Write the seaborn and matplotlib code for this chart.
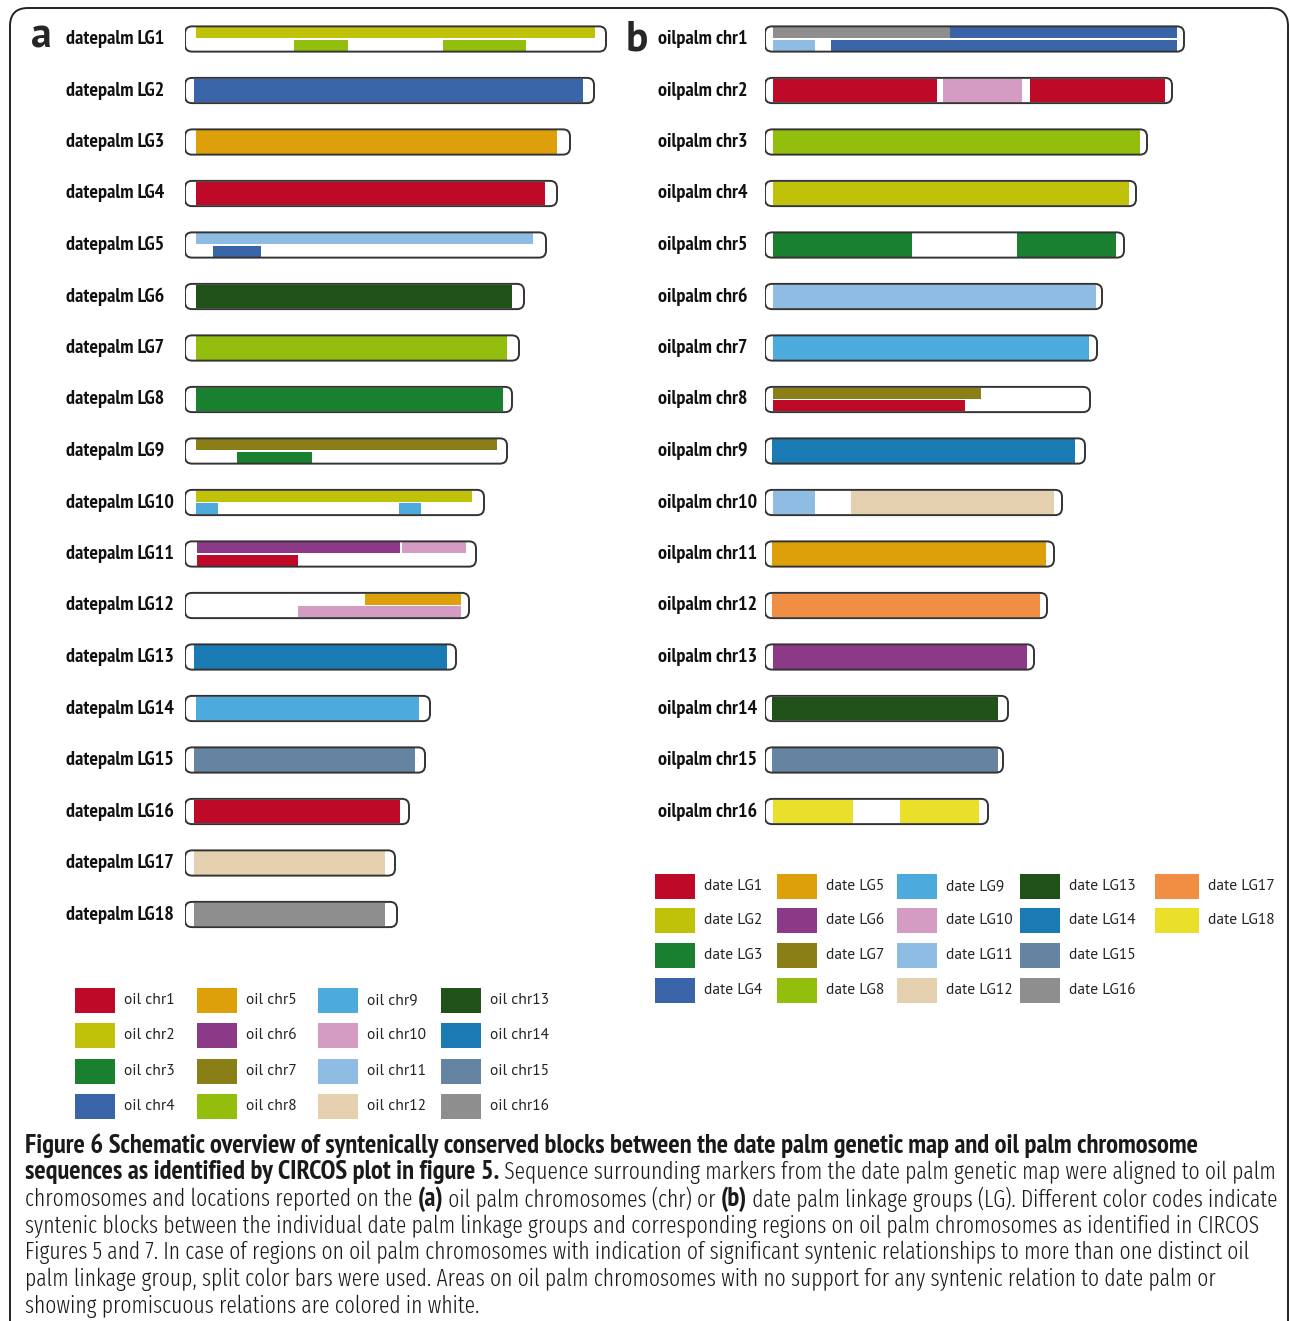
import matplotlib
matplotlib.use("Agg")
import matplotlib.pyplot as plt
from matplotlib.patches import FancyBboxPatch, Rectangle
from matplotlib import font_manager
import seaborn as sns

# ---------------------------------------------------------------- data
# Colour codes shared by oil palm chromosomes (1-16) and date palm LGs (1-18)
code_colors = ["#BE0A28", "#C0C20A", "#18802E", "#3A64A8", "#DDA00B", "#8C3A87",
               "#8A7E16", "#94BE0E", "#4DAADC", "#D59CC3", "#8FBCE2", "#E4CFAE",
               "#1F5118", "#1A7AB3", "#6584A1", "#8E8E8E", "#F28E44", "#EAE02A"]

# (a) date palm linkage groups, lengths in map units
lg_names = [f"datepalm LG{i}" for i in range(1, 19)]
lg_lengths = [421, 409, 385, 372, 361, 339, 334, 327, 322, 299, 291, 284,
              271, 245, 240, 224, 210, 212]
# syntenic blocks: (group index, start, end, oil chr code, track) track 0=full, 1=top, 2=bottom
lg_blocks = [
    (0, 11, 410, 2, 1), (0, 109, 163, 8, 2), (0, 258, 341, 8, 2),
    (1, 9, 398, 4, 0),
    (2, 11, 372, 5, 0),
    (3, 11, 360, 1, 0),
    (4, 11, 348, 11, 1), (4, 28, 76, 4, 2),
    (5, 11, 327, 13, 0),
    (6, 11, 322, 8, 0),
    (7, 11, 318, 3, 0),
    (8, 11, 312, 7, 1), (8, 52, 127, 3, 2),
    (9, 11, 287, 2, 1), (9, 11, 33, 9, 2), (9, 214, 236, 9, 2),
    (10, 12, 215, 6, 1), (10, 217, 281, 10, 1), (10, 12, 113, 1, 2),
    (11, 180, 276, 5, 1), (11, 113, 276, 10, 2),
    (12, 9, 262, 14, 0),
    (13, 11, 234, 9, 0),
    (14, 9, 230, 15, 0),
    (15, 9, 215, 1, 0),
    (16, 9, 200, 12, 0),
    (17, 9, 200, 16, 0),
]

# (b) oil palm chromosomes
chr_names = [f"oilpalm chr{i}" for i in range(1, 17)]
chr_lengths = [419, 407, 382, 371, 359, 337, 332, 325, 320, 297, 289, 282,
               269, 243, 238, 223]
chr_blocks = [
    (0, 8, 185, 16, 1), (0, 185, 412, 4, 1), (0, 8, 50, 11, 2), (0, 66, 412, 4, 2),
    (1, 8, 172, 1, 0), (1, 178, 257, 10, 0), (1, 265, 400, 1, 0),
    (2, 8, 375, 8, 0),
    (3, 8, 364, 2, 0),
    (4, 8, 147, 3, 0), (4, 252, 351, 3, 0),
    (5, 8, 331, 11, 0),
    (6, 8, 324, 9, 0),
    (7, 8, 216, 7, 1), (7, 8, 200, 1, 2),
    (8, 7, 310, 14, 0),
    (9, 8, 50, 11, 0), (9, 86, 289, 12, 0),
    (10, 7, 281, 5, 0),
    (11, 7, 275, 17, 0),
    (12, 8, 262, 6, 0),
    (13, 7, 233, 13, 0),
    (14, 7, 233, 15, 0),
    (15, 8, 88, 18, 0), (15, 135, 214, 18, 0),
]

oil_legend = [f"oil chr{i}" for i in range(1, 17)]
date_legend = [f"date LG{i}" for i in range(1, 19)]

caption_lines = [
    [("Figure 6 Schematic overview of syntenically conserved blocks between the date palm genetic map and oil palm chromosome", "bold")],
    [("sequences as identified by CIRCOS plot in figure 5.", "bold"),
     (" Sequence surrounding markers from the date palm genetic map were aligned to oil palm", "light")],
    [("chromosomes and locations reported on the ", "light"), ("(a)", "bold"),
     (" oil palm chromosomes (chr) or ", "light"), ("(b)", "bold"),
     (" date palm linkage groups (LG). Different color codes indicate", "light")],
    [("syntenic blocks between the individual date palm linkage groups and corresponding regions on oil palm chromosomes as identified in CIRCOS", "light")],
    [("Figures 5 and 7. In case of regions on oil palm chromosomes with indication of significant syntenic relationships to more than one distinct oil", "light")],
    [("palm linkage group, split color bars were used. Areas on oil palm chromosomes with no support for any syntenic relation to date palm or", "light")],
    [("showing promiscuous relations are colored in white.", "light")],
]

# ---------------------------------------------------------------- style
sns.set_theme(style="white")
installed = {f.name for f in font_manager.fontManager.ttflist}


def pick(*names):
    for n in names:
        if n in installed:
            return n
    return "DejaVu Sans"


NARROW = pick("PT Sans Narrow", "Fira Sans Condensed", "Roboto Condensed")
LIGHT = pick("Fira Sans Extra Condensed", "Open Sans", "Roboto Condensed")
KEYFONT = pick("PT Sans", "Fira Sans", "Open Sans")
plt.rcParams["font.family"] = [NARROW, "DejaVu Sans"]
palette = sns.color_palette(code_colors)

W, H = 1290, 1321
fig = plt.figure(figsize=(W / 100, H / 100), dpi=100)
fig.patch.set_facecolor("white")
renderer = fig.canvas.get_renderer()

STYLES = {
    "bold": dict(family=[NARROW, "DejaVu Sans"], fontweight="bold"),
    "light": dict(family=[LIGHT, "DejaVu Sans"], fontweight=300),
    "label": dict(family=[NARROW, "DejaVu Sans"], fontweight="bold"),
    "key": dict(family=[KEYFONT, "DejaVu Sans"], fontweight="normal"),
}


def fit_size(text, style, target_px):
    """Font size (pt) at which `text` spans target_px pixels."""
    t = fig.text(0, 0, text, fontsize=20, **STYLES[style])
    w = t.get_window_extent(renderer=renderer).width
    t.remove()
    return 20 * target_px / w


LABEL_PT = fit_size("datepalm LG1", "label", 98)
KEY_PT = fit_size("date LG1", "key", 58)
BOLD_PT = fit_size(caption_lines[0][0][0], "bold", 1177)
LIGHT_PT = fit_size(caption_lines[3][0][0], "light", 1224)


def px_axes(x0, y0, x1, y1):
    ax = fig.add_axes([x0 / W, 1 - y1 / H, (x1 - x0) / W, (y1 - y0) / H])
    ax.set_axis_off()
    return ax


# outer frame
frame_ax = px_axes(0, 0, W, H)
frame_ax.set_xlim(0, W)
frame_ax.set_ylim(H, 0)
frame_ax.add_patch(FancyBboxPatch((10, 8), 1278, 1360,
                                  boxstyle="round,pad=0,rounding_size=18",
                                  facecolor="none", edgecolor="#222222", lw=1.4,
                                  clip_on=False))

ROW_PX = 51.5
TRACKS = {0: (-0.225, 0.225), 1: (-0.225, -0.01), 2: (0.01, 0.225)}


def draw_panel(x_left, names, lengths, blocks, label_offset):
    ax = px_axes(x_left, 39 - ROW_PX / 2, x_left + 440, 39 + 17.5 * ROW_PX)
    ax.set_xlim(0, 440)
    ax.set_ylim(17.5, -0.5)
    aspect = 1 / ROW_PX
    for i, (nm, ln) in enumerate(zip(names, lengths)):
        ax.add_patch(FancyBboxPatch((0, i - 0.245), ln, 0.49,
                                    boxstyle="round,pad=0,rounding_size=7",
                                    mutation_aspect=aspect, facecolor="white",
                                    edgecolor="none", zorder=1))
        ax.text(-label_offset, i, nm, ha="left", va="center", fontsize=LABEL_PT,
                color="#111111", **STYLES["label"])
    for idx, s, e, code, track in blocks:
        lo, hi = TRACKS[track]
        ax.barh(idx + (lo + hi) / 2, e - s, left=s, height=hi - lo,
                color=palette[code - 1], linewidth=0, zorder=2)
    for i, ln in enumerate(lengths):
        ax.add_patch(FancyBboxPatch((0, i - 0.245), ln, 0.49,
                                    boxstyle="round,pad=0,rounding_size=7",
                                    mutation_aspect=aspect, facecolor="none",
                                    edgecolor="#333333", lw=1.4, zorder=3))
    return ax


ax_a = draw_panel(185, lg_names, lg_lengths, lg_blocks, 119)
ax_b = draw_panel(765, chr_names, chr_lengths, chr_blocks, 107)

fig.text(31 / W, 1 - 37 / H, "a", fontsize=30, fontweight="bold", va="center",
         ha="left", family=[KEYFONT, "DejaVu Sans"])
fig.text(626 / W, 1 - 40 / H, "b", fontsize=30, fontweight="bold", va="center",
         ha="left", family=[KEYFONT, "DejaVu Sans"])


def draw_key(labels, col_x, row_y, per_col, key_w):
    ax = px_axes(0, 0, W, H)
    ax.set_xlim(0, W)
    ax.set_ylim(H, 0)
    for k, lab in enumerate(labels):
        c, r = divmod(k, per_col)
        x, y = col_x[c], row_y[r]
        ax.add_patch(Rectangle((x, y - 12.5), key_w[c], 25,
                               facecolor=palette[k], edgecolor="none"))
        ax.text(x + key_w[c] + 9, y, lab, ha="left", va="center",
                fontsize=KEY_PT, color="#222222", **STYLES["key"])


draw_key(oil_legend, [75, 197, 318, 441], [1000, 1035, 1071, 1106], 4, [40, 40, 40, 40])
draw_key(date_legend, [655, 777, 897, 1020, 1155], [886, 920, 955, 990], 4,
         [40, 40, 40, 40, 44])

# caption, written run by run so bold and light parts follow each other
line_y = [1146, 1172, 1199, 1226, 1252, 1279, 1306]
for y, runs in zip(line_y, caption_lines):
    x = 25
    for txt, weight in runs:
        size = BOLD_PT if weight == "bold" else LIGHT_PT
        t = fig.text(x / W, 1 - y / H, txt, fontsize=size, va="center", ha="left",
                     color="#1a1a1a", **STYLES[weight])
        x += t.get_window_extent(renderer=renderer).width

fig.savefig("out.png", dpi=100, facecolor="white")
